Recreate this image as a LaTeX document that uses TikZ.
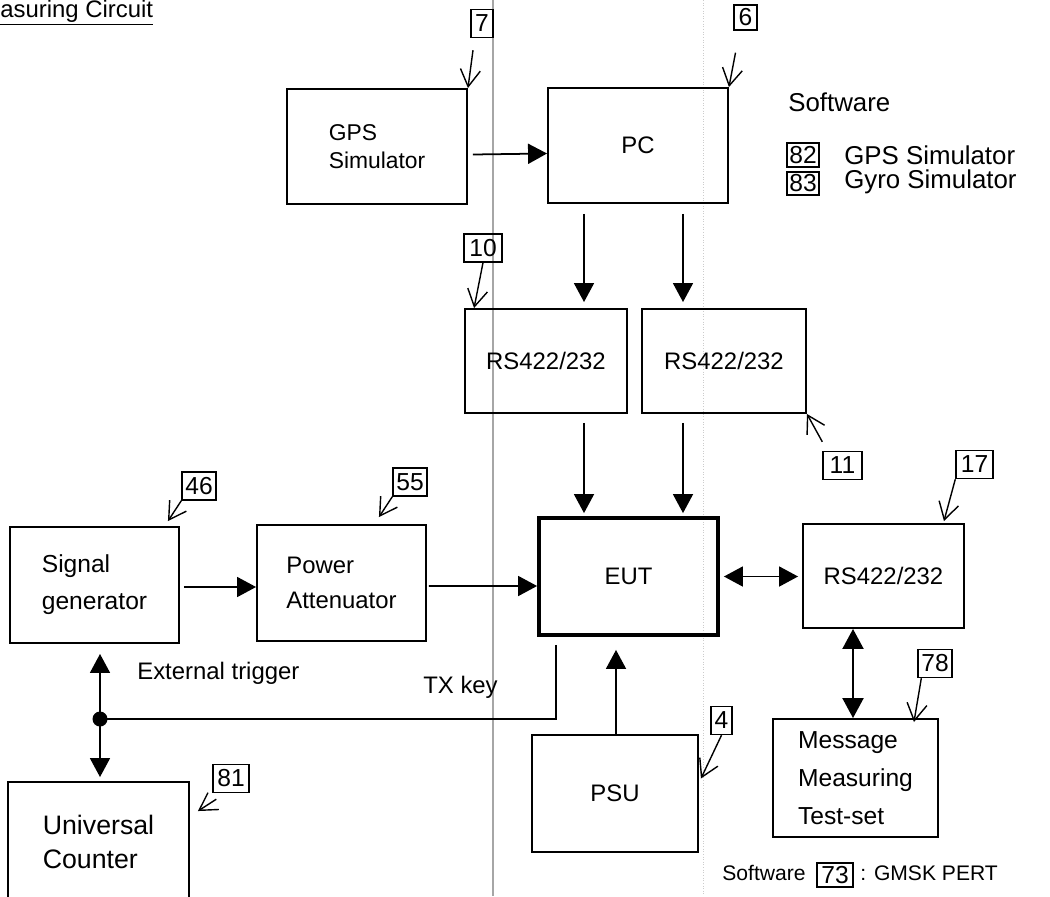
\documentclass[tikz,border=0pt]{standalone}
\usepackage{fontspec}
\setmainfont{Liberation Sans}
\usepackage{tikz}
\usetikzlibrary{arrows.meta, positioning, calc}

\newcommand{\lab}{\fontsize{13.6}{20}\selectfont}
\newcommand{\tagfont}{\fontsize{14}{14}\selectfont}

\begin{document}
\begin{tikzpicture}[
    x=0.02cm, y=-0.02cm,
    block/.style={draw, line width=1.1pt, inner sep=0pt, align=left, font=\lab},
    tag/.style={draw, line width=0.8pt, inner sep=0pt, minimum height=0.56cm, font=\tagfont},
    arr/.style={-{Triangle[length=0.38cm, width=0.4cm]}, line width=1pt},
    darr/.style={{Triangle[length=0.38cm, width=0.4cm]}-{Triangle[length=0.38cm, width=0.4cm]}, line width=1pt},
    bigdarr/.style={{Triangle[length=0.4cm, width=0.42cm]}-{Triangle[length=0.4cm, width=0.42cm]}, line width=1.2pt},
    tagarr/.style={-{Straight Barb[length=0.34cm, width=0.4cm]}, line width=0.8pt},
    txt/.style={font=\lab, inner sep=0pt, anchor=west}
]
    \useasboundingbox (0,0) rectangle (1050,896);
    \clip (0,0) rectangle (1050,896);

    % fold lines of the scan
    \draw[gray!70, line width=0.9pt] (493,0) -- (493,896);
    \draw[gray!40, densely dotted, line width=0.5pt] (703,0) -- (703,896);

    % Title
    \node[txt, anchor=base west] (title) at (0,17) {\underline{asuring Circuit}};

    % Blocks
    \node[block, minimum width=3.6cm, minimum height=2.3cm, font=\fontsize{13}{15.9}\selectfont] (gps) at (377,146.5) {GPS\\Simulator};
    \node[block, minimum width=3.6cm, minimum height=2.3cm] (pc)  at (638,145.5) {PC};
    \node[block, minimum width=3.24cm, minimum height=2.08cm] (rs1) at (546,361) {RS422/232};
    \node[block, minimum width=3.28cm, minimum height=2.08cm] (rs2) at (724,361) {RS422/232};
    \node[block, line width=2.2pt, minimum width=3.58cm, minimum height=2.34cm] (eut) at (628.5,576.5) {EUT};
    \node[block, minimum width=3.22cm, minimum height=2.08cm] (rs3) at (883.5,576) {RS422/232};
    \node[block, minimum width=3.38cm, minimum height=2.32cm, font=\fontsize{14}{21}\selectfont] (sg) at (94.5,585) {Signal\\generator};
    \node[block, minimum width=3.38cm, minimum height=2.32cm] (pa)  at (341.5,583) {Power\\Attenuator};
    \node[block, minimum width=3.32cm, minimum height=2.34cm] (psu) at (615,793.5) {PSU};
    \node[block, minimum width=3.3cm, minimum height=2.36cm, font=\fontsize{14}{21.5}\selectfont] (mmt) at (855.5,778) {Message\\Measuring\\Test-set};
    \node[block, minimum width=3.62cm, minimum height=2.4cm, font=\fontsize{15.2}{19.8}\selectfont] (uc) at (98.5,842) {Universal\\Counter};

    % Item tags
    \node[tag, minimum width=0.44cm] (t7)  at (482,23.5) {7};
    \node[tag, minimum width=0.46cm, minimum height=0.5cm] (t6) at (745.5,17.5) {6};
    \node[tag, minimum width=0.76cm] (t10) at (483,248) {10};
    \node[tag, minimum width=0.78cm] (t11) at (842.5,465.5) {11};
    \node[tag, minimum width=0.74cm] (t17) at (974.5,464.5) {17};
    \node[tag, minimum width=0.68cm] (t46) at (199,486) {46};
    \node[tag, minimum width=0.68cm] (t55) at (410,482) {55};
    \node[tag, minimum width=0.42cm] (t4)  at (721.5,720.5) {4};
    \node[tag, minimum width=0.68cm] (t78) at (935,663.5) {78};
    \node[tag, minimum width=0.72cm] (t81) at (231,778.5) {81};

    \draw[tagarr] ($(t7.south)+(-9,12)$) -- (gps.north east);
    \draw[tagarr] ($(t6.south)+(-10,22)$) -- (pc.north east);
    \draw[tagarr] (t10.south) -- ($(rs1.north west)+(10,0)$);
    \draw[tagarr] ($(t11.north west)+(0,-9)$) -- (rs2.south east);
    \draw[tagarr] (t17.south west) -- ($(rs3.north east)+(-21,-2)$);
    \draw[tagarr] (t46.south west) -- ($(sg.north east)+(-12,-5)$);
    \draw[tagarr] (t55.south west) -- ($(pa.north east)+(-48,-7)$);
    \draw[tagarr] (t4.south) -- ($(psu.east)+(2,-15)$);
    \draw[tagarr] ($(t78.south west)+(4,0)$) -- ($(mmt.north east)+(-25,4)$);
    \draw[tagarr] ($(t81.south west)+(4,6)$) -- ($(uc.north east)+(8,30)$);

    % Signal paths
    \draw[arr] ($(gps.east)+(5,8)$) -- ($(pc.west)+(0,8)$);
    \draw[arr] ($(pc.south)+(-54,10)$) -- ($(rs1.north)+(38,-6)$);
    \draw[arr] ($(pc.south)+(45,10)$) -- ($(rs2.north)+(-41,-6)$);
    \draw[arr] ($(rs1.south)+(38,9)$) -- ($(eut.north)+(-44.5,-3)$);
    \draw[arr] ($(rs2.south)+(-41,9)$) -- ($(eut.north)+(54.5,-3)$);
    \draw[arr] ($(sg.east)+(4,2)$) -- ($(pa.west)+(0,4)$);
    \draw[arr] ($(pa.east)+(2,3)$) -- ($(eut.west)+(0,9.5)$);
    \draw[darr] ($(eut.east)+(4,0)$) -- ($(rs3.west)+(-4,0.5)$);
    \draw[bigdarr] ($(rs3.south)+(-30.5,0)$) -- ($(mmt.north)+(-2.5,0)$);
    \draw[arr] ($(psu.north)+(1,0)$) -- ($(eut.south)+(-12.5,13)$);

    % Trigger / TX key
    \coordinate (trig) at (100,719);
    \fill (trig) circle (0.15cm);
    \draw[arr] (trig) -- ($(sg.south)+(5.5,10)$);
    \draw[arr] (trig) -- ($(uc.north)+(1.5,-4)$);
    \draw[line width=1pt] ($(eut.south west)+(19,8)$) |- (trig);
    \node[txt] (exttrig) at (137,673) {External trigger};
    \node[txt] (txkey) at (423,687) {TX key};

    % Software
    \node[txt, font=\fontsize{14.7}{16}\selectfont] (sw) at (788,102) {Software};
    \node[tag, minimum width=0.64cm, minimum height=0.48cm] (t82) at (803,155) {82};
    \node[tag, minimum width=0.64cm, minimum height=0.46cm] (t83) at (803,183.5) {83};
    \node[txt, font=\fontsize{14.7}{16}\selectfont] (gpssw) at (844,155) {GPS Simulator};
    \node[txt, font=\fontsize{14.7}{16}\selectfont] (gyrosw) at (844,182) {Gyro Simulator};

    \node[txt, font=\fontsize{12}{14}\selectfont] (sw2) at (722,873) {Software};
    \node[tag, minimum width=0.72cm, minimum height=0.48cm] (t73) at (835,875) {73};
    \node[txt, font=\fontsize{12}{14}\selectfont] (pert) at (860,873) {: GMSK PERT};
\end{tikzpicture}
\end{document}
